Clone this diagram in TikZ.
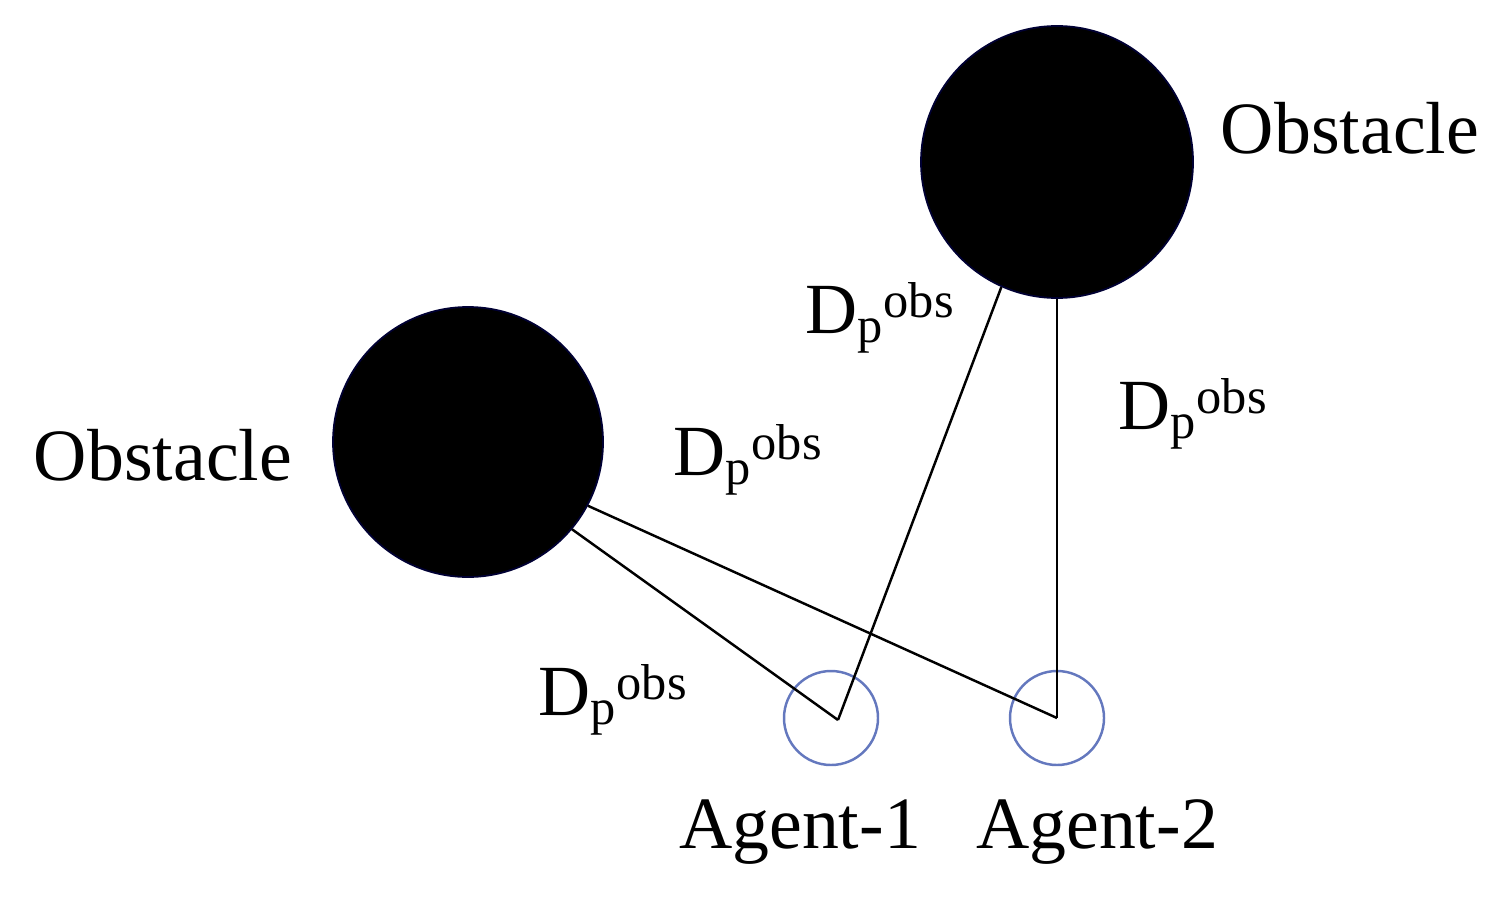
\documentclass[tikz,border=0pt]{standalone}
\usepackage{fontspec}
\setmainfont{Liberation Serif}
\begin{document}
\begin{tikzpicture}[x=0.02cm,y=-0.02cm,
  obs/.style={circle,fill=black,draw=black!80!blue,line width=1pt,minimum size=#1*0.02cm,inner sep=0},
  agent/.style={circle,draw={rgb,255:red,100;green,120;blue,190},line width=1.4pt,minimum size=94*0.02cm,inner sep=0},
  lbl/.style={font=\fontsize{42}{46}\selectfont,inner sep=0},
  dp/.style={font=\fontsize{41}{44}\selectfont,inner sep=0},
  link/.style={line width=1.4pt}]
\useasboundingbox (0,0) rectangle (1506,902);
\node[obs=270] (o1) at (468,442) {};
\node[obs=272] (o2) at (1057,162) {};
\node[agent] (a1) at (831,718) {};
\node[agent] (a2) at (1057,718) {};
\coordinate (c1) at (838,720);
\coordinate (c2) at (1057,718);
\draw[link] (o1.-40) -- (c1);
\draw[link] (o1.-28) -- (c2);
\draw[link] (o2.-114) -- (c1);
\draw[link] (o2.south) -- (c2);
\node[lbl] (t1) at (1350,128) {Obstacle};
\node[lbl] (t2) at (163,455) {Obstacle};
\node[lbl] (t3) at (800,832) {Agent-1};
\node[lbl] (t4) at (1097,832) {Agent-2};
\node[dp] (d1) at (880,318) {D\textsubscript{p}\textsuperscript{obs}};
\node[dp] (d2) at (748,460) {D\textsubscript{p}\textsuperscript{obs}};
\node[dp] (d3) at (1193,414) {D\textsubscript{p}\textsuperscript{obs}};
\node[dp] (d4) at (613,700) {D\textsubscript{p}\textsuperscript{obs}};
\end{tikzpicture}
\end{document}
